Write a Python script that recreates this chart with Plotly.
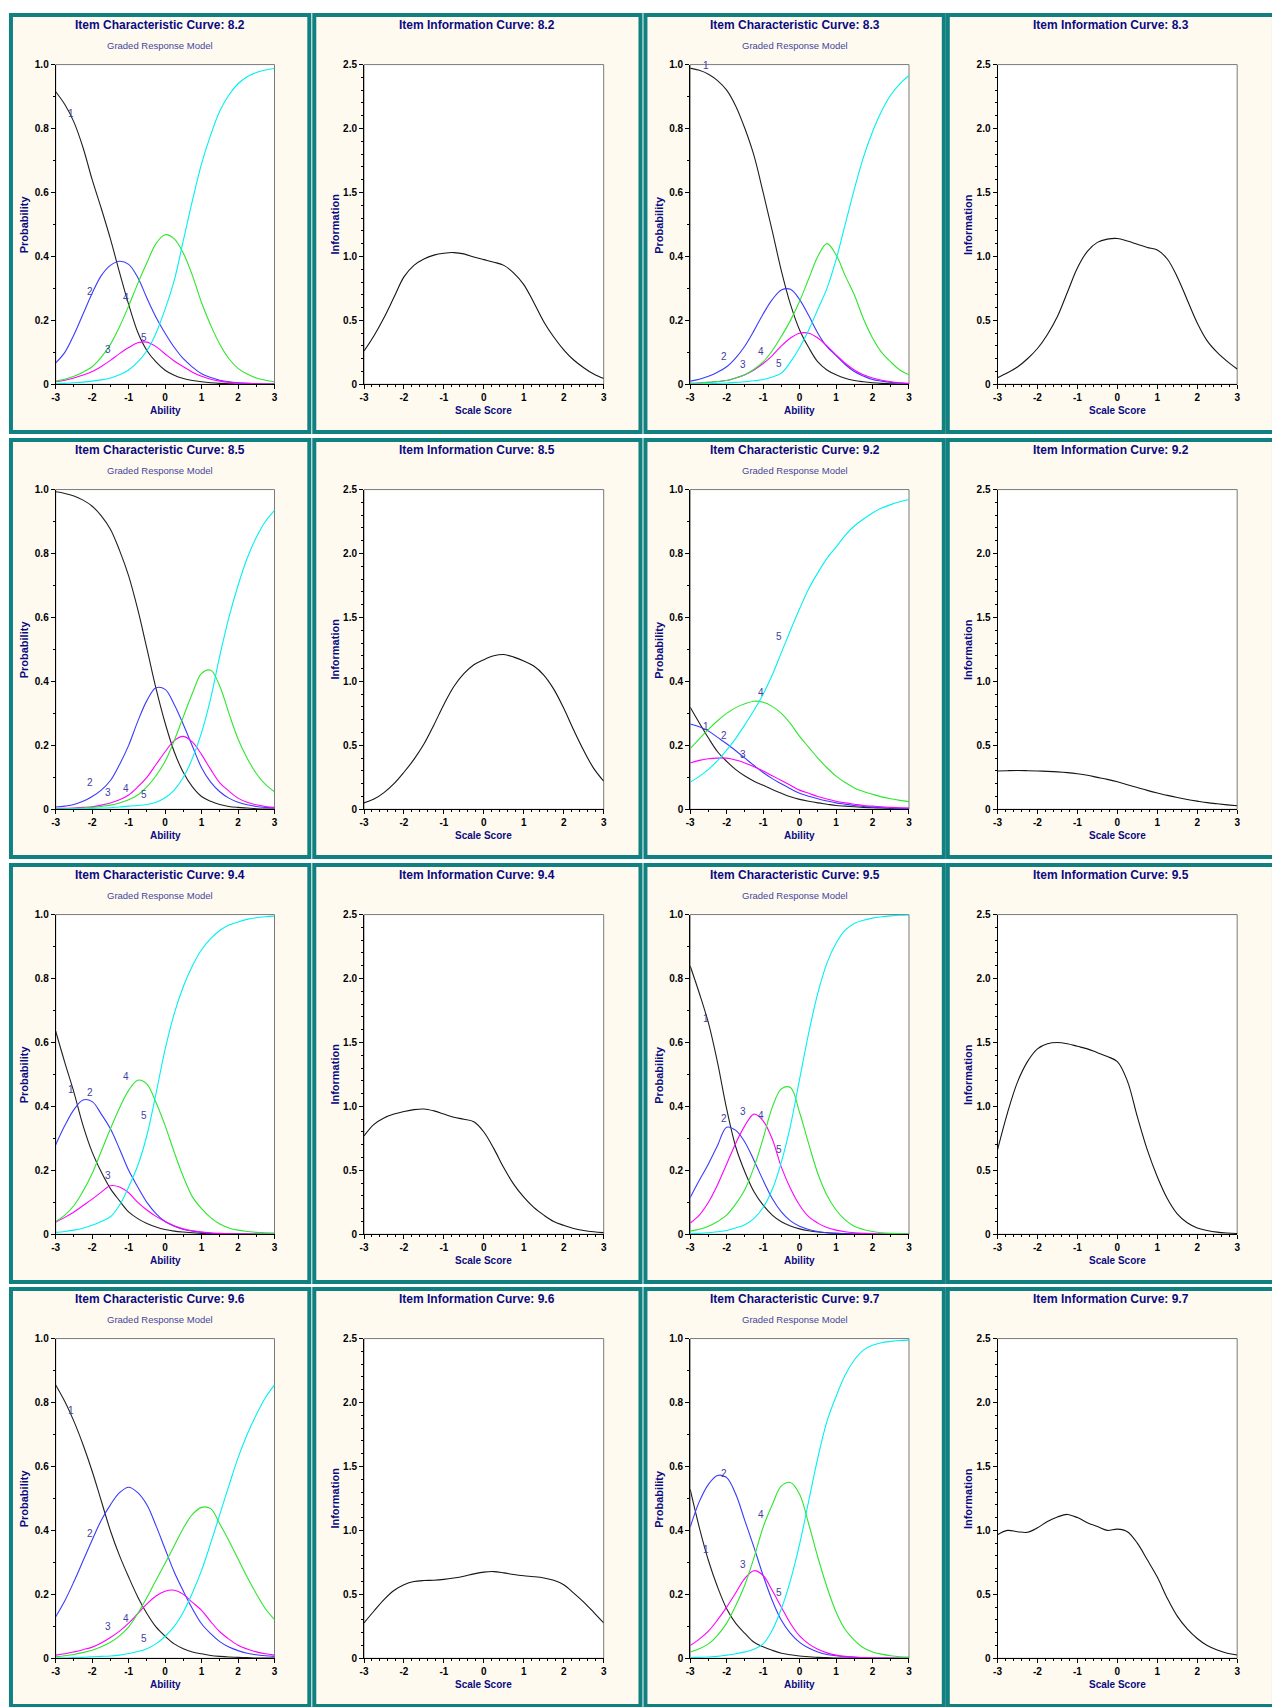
import plotly.graph_objects as go

# ------------------------------------------------------------------ data
ability = [-3.0, -2.75, -2.5, -2.25, -2.0, -1.75, -1.5, -1.25, -1.0, -0.75, -0.5, -0.25,
           0.0, 0.25, 0.5, 0.75, 1.0, 1.25, 1.5, 1.75, 2.0, 2.25, 2.5, 2.75, 3.0]
scale_score = ability

x_ticks = [-3, -2, -1, 0, 1, 2, 3]
x_tick_text = ["-3", "-2", "-1", "0", "1", "2", "3"]
prob_ticks = [0, 0.2, 0.4, 0.6, 0.8, 1.0]
prob_tick_text = ["0", "0.2", "0.4", "0.6", "0.8", "1.0"]
info_ticks = [0, 0.5, 1.0, 1.5, 2.0, 2.5]
info_tick_text = ["0", "0.5", "1.0", "1.5", "2.0", "2.5"]

categories = ["1", "2", "3", "4", "5"]

# category response curves, item 8.2
icc_82_1 = [.915, .875, .82, .74, .64, .55, .455, .35, .25, .163, .106, .07, .044, .028, .018, .012, .008, .005, .003, .002, .001, .001, .0005, .0003, .0002]
icc_82_2 = [.067, .1, .155, .22, .285, .34, .372, .385, .375, .334, .27, .21, .16, .116, .08, .054, .033, .021, .013, .008, .005, .003, .002, .001, .001]
icc_82_3 = [.008, .013, .02, .029, .04, .056, .075, .096, .115, .13, .132, .118, .095, .073, .055, .038, .025, .016, .01, .006, .004, .003, .002, .001, .001]
icc_82_4 = [.01, .016, .025, .038, .055, .085, .125, .18, .245, .315, .38, .44, .468, .455, .41, .34, .255, .185, .125, .08, .05, .032, .02, .013, .008]
icc_82_5 = [.002, .003, .005, .007, .01, .014, .02, .03, .045, .07, .105, .16, .235, .325, .45, .575, .69, .78, .855, .905, .94, .962, .975, .983, .988]

# item 8.3
icc_83_1 = [.989, .982, .97, .95, .92, .87, .80, .715, .60, .48, .355, .25, .17, .115, .07, .045, .03, .019, .012, .008, .005, .003, .002, .001, .001]
icc_83_2 = [.01, .016, .025, .038, .055, .083, .12, .168, .22, .265, .295, .297, .265, .215, .16, .118, .09, .062, .04, .026, .015, .01, .006, .004, .002]
icc_83_3 = [.003, .004, .006, .009, .012, .02, .03, .045, .065, .09, .12, .145, .16, .16, .145, .12, .092, .066, .045, .03, .02, .013, .008, .005, .003]
icc_83_4 = [.003, .004, .006, .009, .012, .02, .03, .047, .07, .105, .15, .2, .26, .33, .40, .44, .405, .34, .28, .205, .145, .1, .07, .045, .03]
icc_83_5 = [.001, .001, .002, .003, .004, .006, .008, .011, .015, .023, .035, .07, .115, .17, .235, .30, .39, .50, .61, .71, .79, .855, .905, .94, .966]

# item 8.5
icc_85_1 = [.993, .988, .98, .967, .948, .918, .876, .81, .73, .625, .503, .378, .27, .18, .115, .07, .04, .025, .015, .009, .006, .004, .002, .001, .001]
icc_85_2 = [.007, .01, .015, .025, .04, .06, .09, .14, .2, .275, .34, .38, .375, .328, .265, .197, .13, .085, .055, .035, .022, .014, .009, .006, .004]
icc_85_3 = [.002, .003, .004, .006, .008, .013, .02, .03, .045, .07, .1, .14, .18, .215, .228, .21, .171, .125, .083, .057, .035, .022, .014, .009, .006]
icc_85_4 = [.001, .002, .003, .004, .006, .009, .013, .02, .03, .045, .07, .105, .15, .215, .29, .363, .425, .435, .385, .30, .22, .16, .112, .078, .055]
icc_85_5 = [.001, .001, .002, .002, .003, .004, .005, .007, .01, .012, .015, .022, .036, .06, .1, .16, .24, .347, .48, .60, .70, .785, .85, .90, .935]

# item 9.2
icc_92_1 = [.319, .27, .223, .18, .15, .124, .104, .088, .075, .062, .05, .039, .031, .025, .02, .016, .012, .01, .008, .006, .005, .004, .003, .002, .002]
icc_92_2 = [.267, .258, .245, .225, .205, .183, .16, .137, .115, .096, .08, .064, .05, .041, .033, .026, .02, .016, .012, .009, .007, .005, .004, .003, .003]
icc_92_3 = [.145, .153, .158, .16, .16, .154, .145, .133, .12, .105, .09, .075, .06, .05, .04, .032, .025, .02, .016, .012, .01, .008, .006, .005, .004]
icc_92_4 = [.19, .22, .25, .277, .3, .318, .33, .338, .335, .322, .3, .268, .228, .194, .16, .13, .104, .084, .067, .056, .047, .039, .033, .028, .024]
icc_92_5 = [.085, .103, .125, .152, .185, .222, .265, .31, .36, .42, .49, .56, .627, .69, .74, .785, .82, .857, .886, .908, .927, .942, .953, .962, .969]

# item 9.4
icc_94_1 = [.635, .537, .444, .34, .257, .195, .143, .105, .07, .049, .034, .023, .015, .01, .007, .005, .003, .002, .001, .001, .0005, .0003, .0002, .0001, .0001]
icc_94_2 = [.28, .34, .39, .42, .415, .376, .33, .267, .2, .148, .1, .065, .04, .025, .015, .01, .006, .004, .002, .001, .001, .0005, .0003, .0002, .0001]
icc_94_3 = [.038, .053, .07, .09, .11, .132, .152, .148, .13, .1, .076, .056, .04, .027, .017, .011, .007, .004, .003, .002, .001, .0006, .0004, .0002, .0001]
icc_94_4 = [.04, .06, .09, .135, .19, .26, .33, .395, .45, .482, .47, .412, .34, .257, .18, .117, .08, .052, .032, .02, .013, .009, .006, .005, .004]
icc_94_5 = [.006, .009, .013, .019, .028, .04, .055, .091, .148, .215, .309, .44, .578, .69, .775, .84, .89, .925, .95, .967, .977, .985, .99, .993, .995]

# item 9.5
icc_95_1 = [.839, .754, .661, .537, .392, .273, .195, .133, .091, .06, .039, .026, .017, .011, .007, .005, .003, .002, .001, .0007, .0004, .0003, .0002, .0001, .0001]
icc_95_2 = [.115, .169, .22, .278, .335, .325, .288, .231, .169, .112, .07, .042, .025, .015, .009, .005, .003, .002, .001, .0006, .0004, .0002, .0001, .0001, .0001]
icc_95_3 = [.035, .06, .1, .155, .22, .285, .34, .376, .355, .298, .21, .143, .091, .055, .035, .021, .013, .008, .005, .003, .002, .001, .001, .0005, .0004]
icc_95_4 = [.01, .016, .025, .04, .06, .095, .14, .21, .3, .397, .455, .459, .381, .283, .19, .122, .076, .045, .025, .015, .009, .005, .003, .002, .001]
icc_95_5 = [.002, .003, .005, .008, .012, .02, .03, .05, .084, .14, .226, .34, .485, .63, .754, .848, .91, .951, .972, .982, .989, .993, .996, .998, .999]

# item 9.6
icc_96_1 = [.855, .803, .741, .668, .585, .492, .399, .321, .254, .192, .14, .098, .069, .045, .03, .02, .014, .009, .006, .004, .003, .002, .001, .001, .0005]
icc_96_2 = [.13, .18, .24, .305, .37, .432, .48, .518, .535, .518, .48, .415, .342, .27, .21, .155, .108, .077, .052, .035, .024, .016, .011, .008, .006]
icc_96_3 = [.01, .014, .02, .027, .035, .048, .065, .085, .11, .14, .17, .195, .21, .213, .2, .175, .15, .115, .083, .06, .041, .029, .02, .014, .01]
icc_96_4 = [.005, .008, .012, .018, .025, .036, .05, .07, .098, .14, .19, .244, .297, .352, .407, .45, .472, .468, .42, .368, .311, .254, .202, .155, .121]
icc_96_5 = [.001, .001, .002, .003, .005, .006, .007, .01, .015, .021, .03, .045, .069, .1, .145, .205, .275, .36, .45, .54, .627, .7, .762, .815, .855]

# item 9.7
icc_97_1 = [.528, .409, .306, .223, .155, .109, .078, .05, .036, .025, .016, .011, .007, .005, .003, .002, .001, .0007, .0004, .0003, .0002, .0001, .0001, 0, 0]
icc_97_2 = [.41, .49, .544, .572, .565, .513, .43, .347, .259, .181, .119, .078, .05, .032, .02, .012, .008, .005, .003, .002, .001, .0007, .0004, .0002, .0001]
icc_97_3 = [.04, .06, .085, .12, .16, .205, .25, .274, .259, .212, .16, .109, .07, .045, .028, .017, .01, .006, .004, .002, .001, .001, .0005, .0003, .0002]
icc_97_4 = [.02, .03, .045, .072, .11, .165, .23, .315, .41, .48, .539, .55, .513, .42, .316, .223, .145, .09, .057, .033, .02, .013, .008, .005, .004]
icc_97_5 = [.002, .003, .004, .006, .01, .014, .02, .028, .045, .088, .155, .244, .357, .492, .627, .741, .819, .886, .933, .964, .979, .987, .991, .994, .995]

# item information curves
info_82 = [.26, .38, .52, .68, .84, .93, .98, 1.01, 1.025, 1.03, 1.02, .995, .975, .955, .93, .87, .78, .64, .49, .37, .27, .19, .13, .08, .045]
info_83 = [.052, .09, .135, .2, .28, .39, .53, .72, .91, 1.04, 1.11, 1.135, 1.14, 1.12, 1.095, 1.07, 1.05, .98, .84, .66, .48, .34, .25, .18, .12]
info_85 = [.05, .08, .13, .2, .29, .39, .51, .66, .82, .96, 1.06, 1.13, 1.17, 1.2, 1.21, 1.19, 1.16, 1.12, 1.05, .94, .79, .62, .46, .32, .22]
info_92 = [.3, .302, .303, .302, .3, .297, .293, .287, .278, .266, .25, .234, .215, .192, .17, .148, .128, .109, .092, .077, .064, .052, .043, .035, .028]
info_94 = [.77, .86, .91, .94, .96, .975, .98, .965, .94, .915, .9, .88, .8, .67, .52, .39, .29, .21, .15, .1, .07, .045, .03, .02, .013]
info_95 = [.66, .95, 1.19, 1.35, 1.45, 1.49, 1.5, 1.49, 1.47, 1.45, 1.42, 1.39, 1.35, 1.2, .92, .66, .45, .28, .16, .09, .05, .03, .017, .01, .006]
info_96 = [.277, .37, .459, .53, .575, .6, .608, .61, .617, .628, .642, .66, .674, .678, .668, .655, .645, .638, .628, .61, .575, .51, .44, .36, .277]
info_97 = [.966, 1.0, .99, .985, 1.02, 1.07, 1.105, 1.125, 1.1, 1.06, 1.03, 1.0, 1.01, .99, .9, .77, .635, .47, .33, .23, .155, .1, .065, .04, .026]

# where the category numbers sit beside their curves
label_x = [-2.57, -2.07, -1.56, -1.07, -0.57]
label_y_82 = [.847, .29, .108, .27, .147]
label_y_83 = [.997, .087, .061, .103, .066]
label_y_85 = [1.007, .085, .054, .064, .047]
label_y_92 = [.259, .23, .171, .366, .539]
label_y_94 = [.454, .444, .184, .492, .371]
label_y_95 = [.674, .363, .383, .373, .265]
label_y_96 = [.774, .391, .098, .126, .062]
label_y_97 = [.339, .577, .293, .451, .207]

items = ["8.2", "8.3", "8.5", "9.2", "9.4", "9.5", "9.6", "9.7"]
icc_curves = {
    "8.2": [icc_82_1, icc_82_2, icc_82_3, icc_82_4, icc_82_5],
    "8.3": [icc_83_1, icc_83_2, icc_83_3, icc_83_4, icc_83_5],
    "8.5": [icc_85_1, icc_85_2, icc_85_3, icc_85_4, icc_85_5],
    "9.2": [icc_92_1, icc_92_2, icc_92_3, icc_92_4, icc_92_5],
    "9.4": [icc_94_1, icc_94_2, icc_94_3, icc_94_4, icc_94_5],
    "9.5": [icc_95_1, icc_95_2, icc_95_3, icc_95_4, icc_95_5],
    "9.6": [icc_96_1, icc_96_2, icc_96_3, icc_96_4, icc_96_5],
    "9.7": [icc_97_1, icc_97_2, icc_97_3, icc_97_4, icc_97_5],
}
info_curves = {"8.2": info_82, "8.3": info_83, "8.5": info_85, "9.2": info_92,
               "9.4": info_94, "9.5": info_95, "9.6": info_96, "9.7": info_97}
label_ys = {"8.2": label_y_82, "8.3": label_y_83, "8.5": label_y_85, "9.2": label_y_92,
            "9.4": label_y_94, "9.5": label_y_95, "9.6": label_y_96, "9.7": label_y_97}

# ------------------------------------------------------------------ style
W, H = 1272, 1707
COL_LEFT = [7, 312, 645, 949]
COL_WIDTH = [300, 328, 300, 328]
ROW_TOP = [9, 437, 865, 1292]
PANEL_H = 420
PLOT_TOP, PLOT_BOTTOM = 50, 372
ICC_PLOT_X = (45, 265)
INFO_PLOT_X = (50, 291)

NARROW = "Liberation Sans Narrow, Arial Narrow, Liberation Sans, Arial, sans-serif"
PLAIN = "Liberation Sans, Arial, sans-serif"
NAVY = "#0b0b80"
SUB_BLUE = "#45459a"
LABEL_BLUE = "#4040a0"
TEAL = "#118080"
CREAM = "#fefaf0"
CURVE_COLORS = ["#202020", "#3a3aff", "#ff00ff", "#2ee62e", "#00f0f0"]


def fx(px):
    return px / W


def fy(py):
    return 1 - py / H


fig = go.Figure()
shapes, annotations = [], []
axes = {}

n = 0
for i, item in enumerate(items):
    row = i // 2
    pair_pos = i % 2
    for kind in ("icc", "info"):
        col = 2 * pair_pos + (0 if kind == "icc" else 1)
        n += 1
        suffix = "" if n == 1 else str(n)
        left, top = COL_LEFT[col], ROW_TOP[row]
        width = COL_WIDTH[col]
        pl, pr = ICC_PLOT_X if kind == "icc" else INFO_PLOT_X
        x0, x1 = left + pl, left + pr
        y0, y1 = top + PLOT_TOP, top + PLOT_BOTTOM

        # panel frame and white plotting field
        shapes.append(dict(type="rect", xref="paper", yref="paper",
                           x0=fx(left), x1=fx(left + width), y0=fy(top + PANEL_H), y1=fy(top),
                           fillcolor=CREAM, line=dict(color=TEAL, width=4), layer="below"))
        shapes.append(dict(type="rect", xref="paper", yref="paper",
                           x0=fx(x0), x1=fx(x1), y0=fy(y1), y1=fy(y0),
                           fillcolor="white", line=dict(color="#7a7a7a", width=1), layer="below"))

        tickfont = dict(family=PLAIN, size=10, color="black", weight="bold")
        axes["xaxis" + suffix] = dict(
            domain=[fx(x0), fx(x1)], anchor="y" + suffix, range=[-3, 3],
            tickmode="array", tickvals=x_ticks, ticktext=x_tick_text,
            ticks="outside", ticklen=4, tickwidth=1, tickcolor="black",
            minor=dict(tickmode="linear", tick0=-3, dtick=0.5 if kind == "icc" else 0.2,
                       ticks="outside", ticklen=2, tickcolor="black", showgrid=False),
            showline=True, linecolor="black", linewidth=1, mirror=False,
            showgrid=False, zeroline=False, tickfont=tickfont, fixedrange=True)
        if kind == "icc":
            yvals, ytext, yrange = prob_ticks, prob_tick_text, [0, 1]
        else:
            yvals, ytext, yrange = info_ticks, info_tick_text, [0, 2.5]
        axes["yaxis" + suffix] = dict(
            domain=[fy(y1), fy(y0)], anchor="x" + suffix, range=yrange,
            tickmode="array", tickvals=yvals, ticktext=ytext,
            ticks="outside", ticklen=4, tickwidth=1, tickcolor="black",
            minor=dict(tickmode="linear", tick0=0, dtick=0.1,
                       ticks="outside", ticklen=2, tickcolor="black", showgrid=False),
            showline=True, linecolor="black", linewidth=1, mirror=False,
            showgrid=False, zeroline=False, tickfont=tickfont, fixedrange=True)

        cx = left + width / 2
        if kind == "icc":
            title = "Item Characteristic Curve: " + item
            for k, ys in enumerate(icc_curves[item]):
                fig.add_trace(go.Scatter(
                    x=ability, y=ys, mode="lines", xaxis="x" + suffix, yaxis="y" + suffix,
                    line=dict(color=CURVE_COLORS[k], width=1.1, shape="spline", smoothing=1.0),
                    name=categories[k], hoverinfo="skip"))
                annotations.append(dict(
                    x=label_x[k], y=label_ys[item][k], xref="x" + suffix, yref="y" + suffix,
                    text=categories[k], showarrow=False,
                    font=dict(family=NARROW, size=10, color=LABEL_BLUE)))
            annotations.append(dict(
                x=fx(cx), y=fy(top + 31), xref="paper", yref="paper", text="Graded Response Model",
                showarrow=False, xanchor="center", yanchor="middle",
                font=dict(family=NARROW, size=9.5, color=SUB_BLUE)))
            xtitle, ytitle, ytitle_x = "Ability", "Probability", left + 14
        else:
            title = "Item Information Curve: " + item
            fig.add_trace(go.Scatter(
                x=scale_score, y=info_curves[item], mode="lines",
                xaxis="x" + suffix, yaxis="y" + suffix,
                line=dict(color="#151515", width=1.1, shape="spline", smoothing=1.0),
                name="Information", hoverinfo="skip"))
            xtitle, ytitle, ytitle_x = "Scale Score", "Information", left + 21

        annotations.append(dict(
            x=fx(cx), y=fy(top + 10), xref="paper", yref="paper", text=title,
            showarrow=False, xanchor="center", yanchor="middle",
            font=dict(family=NARROW, size=12, color=NAVY, weight="bold")))
        annotations.append(dict(
            x=fx((x0 + x1) / 2), y=fy(top + 398), xref="paper", yref="paper", text=xtitle,
            showarrow=False, xanchor="center", yanchor="middle",
            font=dict(family=NARROW, size=10, color=NAVY, weight="bold")))
        annotations.append(dict(
            x=fx(ytitle_x), y=fy((y0 + y1) / 2), xref="paper", yref="paper", text=ytitle,
            showarrow=False, xanchor="center", yanchor="middle", textangle=-90,
            font=dict(family=PLAIN, size=11, color=NAVY, weight="bold")))

fig.update_layout(
    width=W, height=H, margin=dict(l=0, r=0, t=0, b=0, pad=0),
    paper_bgcolor="white", plot_bgcolor="rgba(0,0,0,0)",
    showlegend=False, shapes=shapes, annotations=annotations, **axes)

fig.write_html("out.html")
